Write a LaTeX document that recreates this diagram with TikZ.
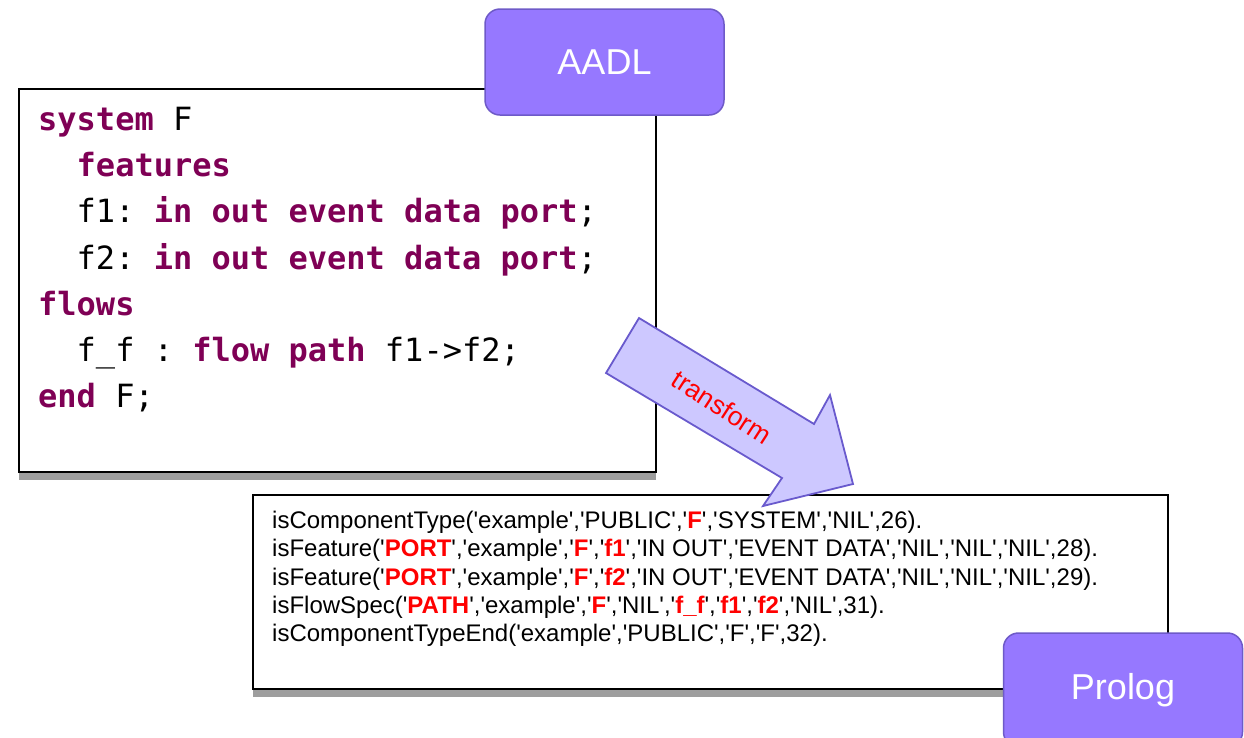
\documentclass[tikz,border=0pt]{standalone}
\usepackage{fontspec}
\setmainfont{Liberation Sans}[Ligatures=TeXOff]
\newfontfamily\codefont{DejaVu Sans Mono}
\usetikzlibrary{positioning,shadows}

\definecolor{kwcol}{RGB}{127,0,85}
\definecolor{langfill}{RGB}{150,120,255}
\definecolor{langdraw}{RGB}{110,90,200}
\definecolor{arrfill}{RGB}{205,200,255}
\definecolor{arrdraw}{RGB}{105,90,205}

\newcommand{\kw}[1]{\textbf{\color{kwcol}#1}}
\newcommand{\hl}[1]{\textbf{\color{red}#1}}
\newcommand{\ind}{\phantom{xx}}

\begin{document}
\begin{tikzpicture}[
    x=1pt, y=-1pt,
    srcbox/.style={rectangle, draw, line width=1.5pt, fill=white, anchor=north west,
      drop shadow={shadow xshift=0pt, shadow yshift=-8pt, fill=black!38, opacity=1}},
    codetxt/.style={anchor=north west, align=left, inner sep=0pt,
      font=\codefont\fontsize{32}{46.2}\selectfont\frenchspacing},
    pltxt/.style={anchor=north west, align=left, inner sep=0pt,
      font=\fontsize{24}{28.3}\selectfont},
    langnode/.style={rectangle, rounded corners=15pt, draw=langdraw, line width=1.5pt,
      fill=langfill, text=white, font=\fontsize{36}{40}\selectfont,
      minimum width=239pt, minimum height=106pt},
    bigarr/.style={draw=arrdraw, fill=arrfill, line width=1.8pt, line join=miter}
  ]
  \useasboundingbox (0,0) rectangle (1244,737);

  % source and result boxes
  \node[srcbox, minimum width=637pt, minimum height=383pt] (aadlbox) at (18,88) {};
  \node[srcbox, minimum width=915pt, minimum height=194pt] (plbox) at (252,494) {};

  \node[codetxt] (aadlcode) at (38,107) {%
    \kw{system} F\\
    \ind\kw{features}\\
    \ind f1: \kw{in} \kw{out} \kw{event} \kw{data} \kw{port};\\
    \ind f2: \kw{in} \kw{out} \kw{event} \kw{data} \kw{port};\\
    \kw{flows}\\
    \ind f\_f : \kw{flow} \kw{path} f1->f2;\\
    \kw{end} F;};

  \node[pltxt] (plcode) at (272,511) {%
    isComponentType('example','PUBLIC','\hl{F}','SYSTEM','NIL',26).\\
    isFeature('\hl{PORT}','example','\hl{F}','\hl{f1}','IN OUT','EVENT DATA','NIL','NIL','NIL',28).\\
    isFeature('\hl{PORT}','example','\hl{F}','\hl{f2}','IN OUT','EVENT DATA','NIL','NIL','NIL',29).\\
    isFlowSpec('\hl{PATH}','example','\hl{F}','NIL','\hl{f\_f}','\hl{f1}','\hl{f2}','NIL',31).\\
    isComponentTypeEnd('example','PUBLIC','F','F',32).};

  % transform arrow
  \draw[bigarr] (639,318) -- (814,424) -- (830,395) -- (853,484)
    -- (763,506) -- (782,478) -- (606,373) -- cycle;
  \node[text=red, rotate=-33, font=\fontsize{26.5}{28}\selectfont] (xform) at (722,407) {transform};

  \node[langnode] (aadl)   at (604.5,62) {AADL};
  \node[langnode, minimum height=114pt] (prolog) at (1123,690) {Prolog};
\end{tikzpicture}
\end{document}
